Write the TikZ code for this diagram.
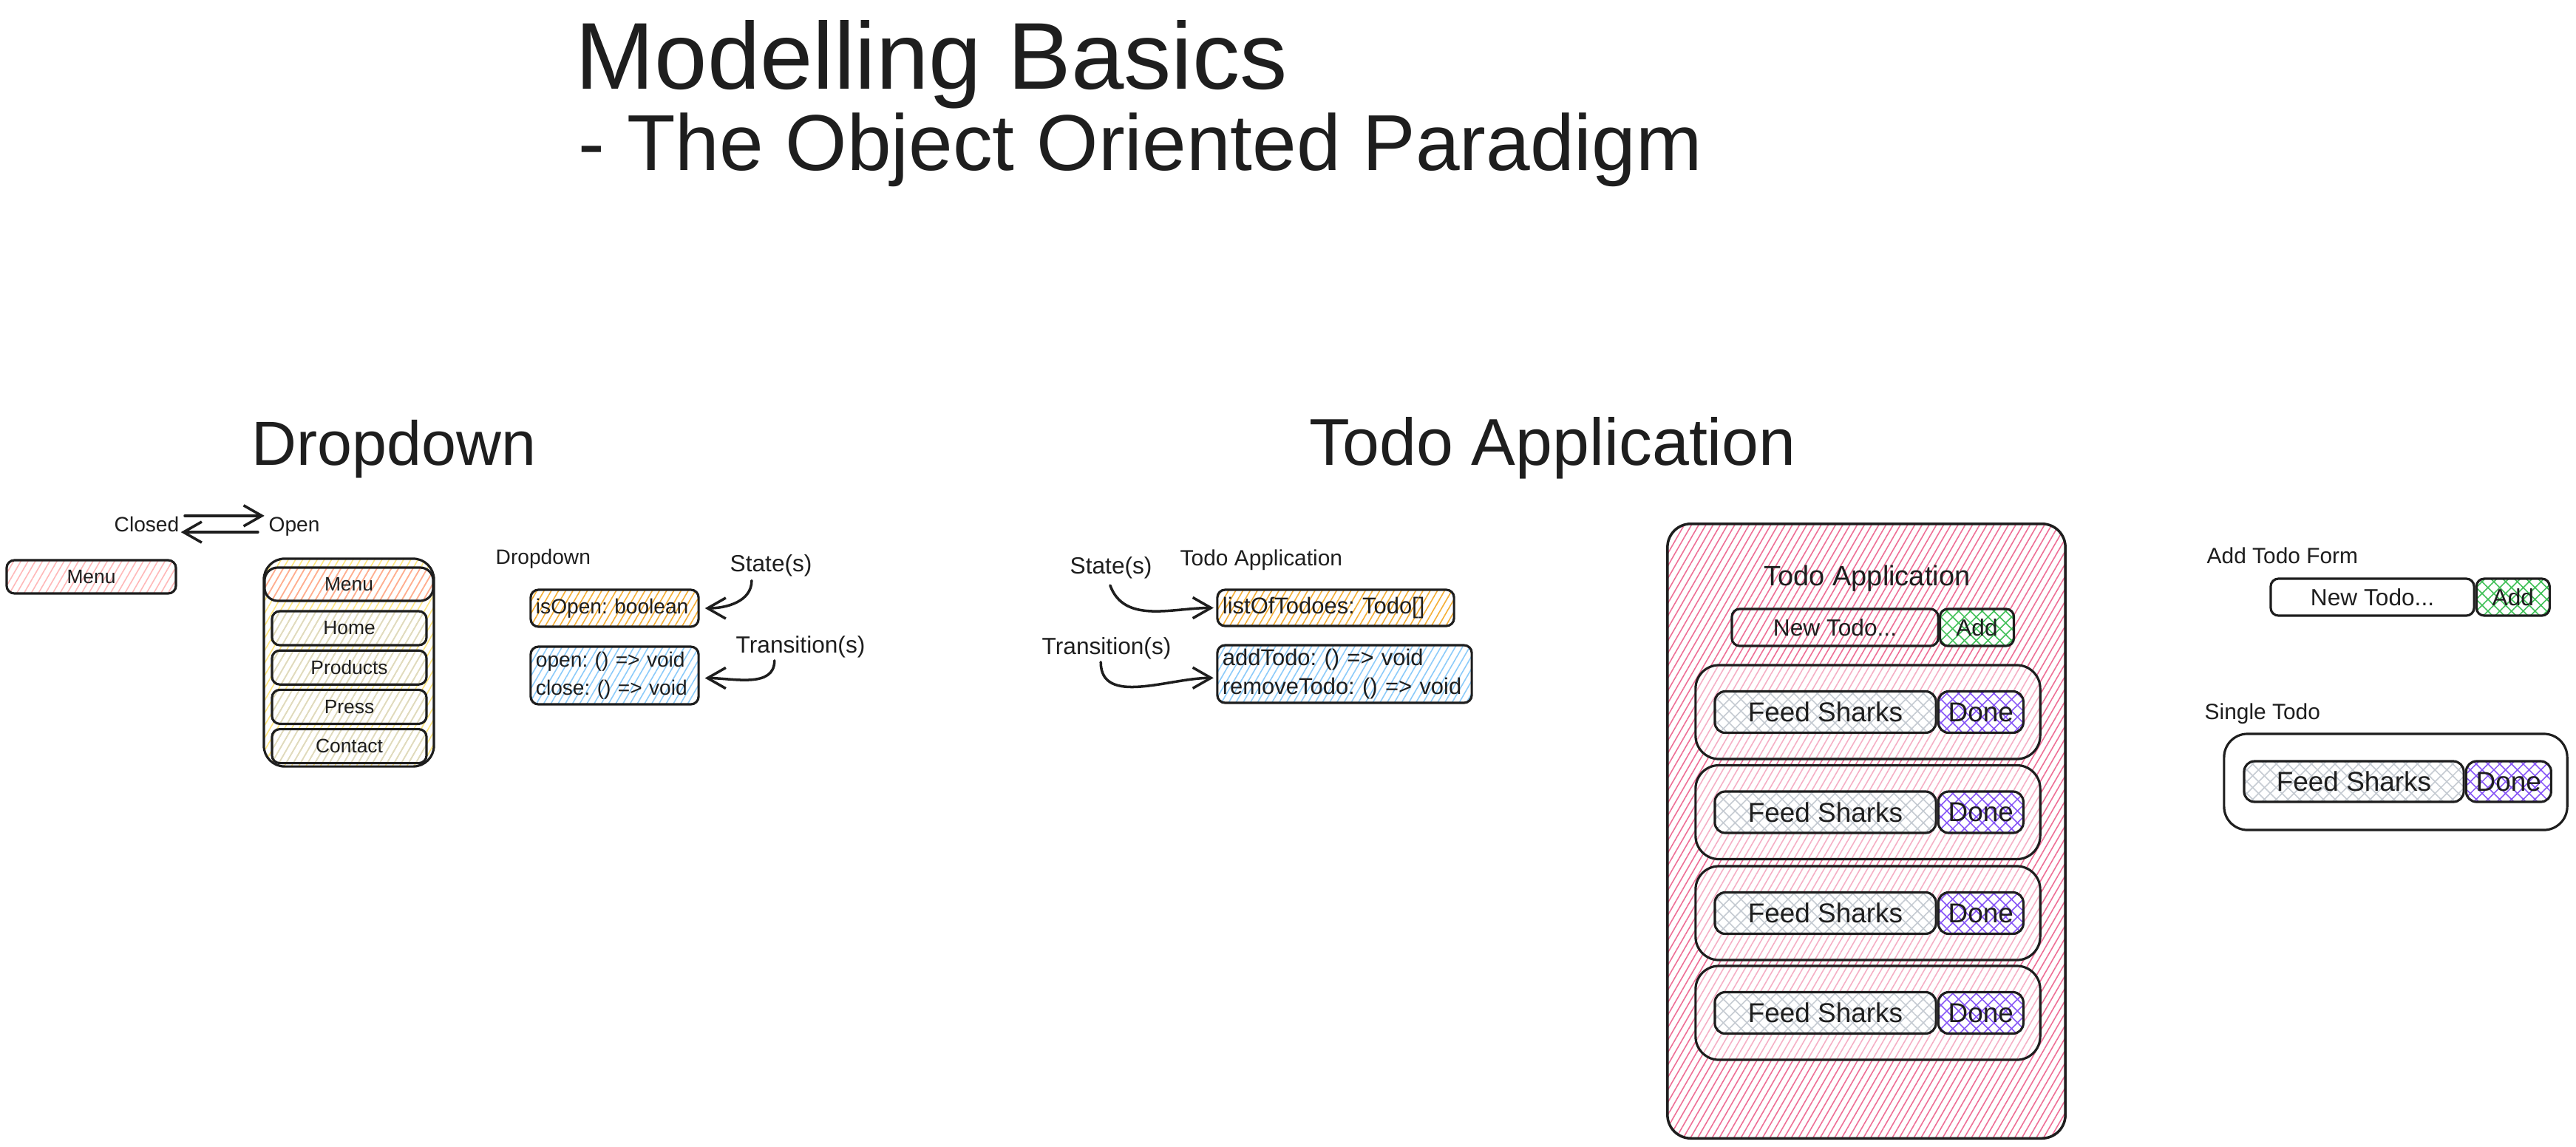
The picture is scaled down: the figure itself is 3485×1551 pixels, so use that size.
\documentclass[tikz,border=0pt]{standalone}
\definecolor{Ink}{HTML}{1E1E1E}
\definecolor{MenuPink}{HTML}{FFB8B8}
\definecolor{HeadSalmon}{HTML}{FFA994}
\definecolor{DropYellow}{HTML}{FFE680}
\definecolor{ItemGrey}{HTML}{DCD9C4}
\definecolor{StateOrange}{HTML}{F5AE35}
\definecolor{TransBlue}{HTML}{8CCBFA}
\definecolor{AppPink}{HTML}{EE6F96}
\definecolor{AddGreen}{HTML}{40C057}
\definecolor{DoneViolet}{HTML}{8655F6}
\definecolor{TodoGrey}{HTML}{C5CBD2}
\usepackage{fontspec}
\setmainfont{Liberation Sans}
\usepackage{tikz}
\usetikzlibrary{arrows.meta, positioning, patterns.meta}
\frenchspacing

\begin{document}
\begin{tikzpicture}[x=0.01cm, y=-0.01cm,
  every node/.style={text=Ink},
  lbl/.style={inner sep=0pt, anchor=base west},
  box/.style={draw=Ink, line width=0.9pt, rounded corners=3pt, inner sep=0pt},
  hatched/.style={pattern={Lines[angle=60, distance=2.4pt, line width=0.45pt]}, pattern color=#1},
  crossed/.style={preaction={fill=white}, pattern={Hatch[angle=45, distance=3.2pt, line width=0.45pt]}, pattern color=#1},
  frame/.style={box, rounded corners=9pt, fill=white, fill opacity=0.45, minimum width=4.66cm, minimum height=1.27cm},
  feed/.style={box, crossed=TodoGrey, rounded corners=4pt, minimum width=2.99cm, minimum height=0.56cm, font=\fontsize{10.5}{12}\selectfont},
  done/.style={box, crossed=DoneViolet, rounded corners=4pt, minimum width=1.15cm, minimum height=0.56cm, font=\fontsize{10.5}{12}\selectfont},
  item/.style={box, hatched=ItemGrey, minimum width=2.09cm, minimum height=0.46cm, font=\fontsize{7.5}{9}\selectfont},
  code/.style={box, align=left, inner xsep=2pt},
  arr/.style={-{Straight Barb[length=7pt, width=8pt]}, line width=1pt, line cap=round, Ink},
]
\fill[white] (0,0) rectangle (3485,1551);
\useasboundingbox (0,0) rectangle (3485,1551);

\node[lbl, font=\fontsize{36.5}{40}\selectfont] (title) at (778,120) {Modelling Basics};
\node[lbl, font=\fontsize{30.5}{36}\selectfont] (subtitle) at (782,230) {- The Object Oriented Paradigm};

\node[lbl, font=\fontsize{24}{28}\selectfont] (hdrop) at (340,629) {Dropdown};
\node[lbl, font=\fontsize{25.5}{28}\selectfont] (htodo) at (1771,629) {Todo Application};

\node[lbl, font=\fontsize{8}{10}\selectfont] (closed) at (154,719) {Closed};
\node[lbl, font=\fontsize{8}{10}\selectfont] (open) at (363,719) {Open};
\draw[arr] ([xshift=2pt, yshift=6pt]closed.base east) -- ([xshift=-1.5pt, yshift=6pt]open.base west);
\draw[arr] ([xshift=-4pt, yshift=-0.3pt]open.base west) -- ([xshift=0.5pt, yshift=-0.3pt]closed.base east);

\node[box, hatched=MenuPink, minimum width=2.29cm, minimum height=0.45cm, font=\fontsize{7.5}{9}\selectfont] (menu) at (123.5,780.5) {Menu};

\node[box, rounded corners=8pt, hatched=DropYellow, minimum width=2.30cm, minimum height=2.81cm] (dropbox) at (472,896.5) {};
\node[box, rounded corners=5pt, hatched=HeadSalmon, minimum width=2.28cm, minimum height=0.45cm, font=\fontsize{7.5}{9}\selectfont] (drophead) at (472,790.5) {Menu};
\node[item] (home) at (472.5,850) {Home};
\node[item, below=0.04cm of home] (products) {Products};
\node[item, below=0.04cm of products] (press) {Press};
\node[item, below=0.04cm of press] (contact) {Contact};

\node[lbl, font=\fontsize{8}{10}\selectfont] (droplbl) at (670,763) {Dropdown};
\node[code, hatched=StateOrange, text width=2.13cm, minimum height=0.50cm, font=\fontsize{8}{10.8}\selectfont] (isopen) at (831.5,823) {isOpen: boolean};
\node[code, hatched=TransBlue, text width=2.13cm, minimum height=0.78cm, font=\fontsize{8}{10.8}\selectfont] (openclose) at (831.5,914) {open: () => void\\close: () => void};
\node[lbl, font=\fontsize{9}{11}\selectfont] (stateA) at (987,773) {State(s)};
\node[lbl, font=\fontsize{9}{11}\selectfont] (transA) at (995,883) {Transition(s)};
\draw[arr] ([xshift=8.5pt, yshift=-1.5pt]stateA.south west) to[out=-90, in=0] ([xshift=2pt]isopen.east);
\draw[arr] ([xshift=15pt, yshift=-1pt]transA.south west) to[out=-90, in=0] ([xshift=2pt, yshift=-1pt]openclose.east);

\node[lbl, font=\fontsize{9}{11}\selectfont] (stateB) at (1447,776) {State(s)};
\node[lbl, font=\fontsize{8.5}{10}\selectfont] (todolbl) at (1596,765) {Todo Application};
\node[lbl, font=\fontsize{9}{11}\selectfont] (transB) at (1409,885) {Transition(s)};
\node[code, hatched=StateOrange, text width=3.06cm, minimum height=0.49cm, font=\fontsize{8.8}{11}\selectfont] (listbox) at (1807,822.5) {listOfTodoes: Todo[]};
\node[code, hatched=TransBlue, text width=3.30cm, minimum height=0.78cm, font=\fontsize{8.8}{11}\selectfont] (addbox) at (1819,912) {addTodo: () => void\\removeTodo: () => void};
\draw[arr] ([xshift=15.6pt, yshift=-2.5pt]stateB.south west) to[out=-70, in=180] ([xshift=-1pt]listbox.west);
\draw[arr] ([xshift=22.8pt, yshift=-1pt]transB.south west) to[out=-90, in=180] ([xshift=-1pt, yshift=-1.5pt]addbox.west);

\node[box, line width=1pt, rounded corners=9pt, hatched=AppPink, minimum width=5.38cm, minimum height=8.31cm] (app) at (2525,1124.5) {};
\node[inner sep=0pt, anchor=base, font=\fontsize{10.8}{13}\selectfont] (apptitle) at (2526,792) {Todo Application};
\node[box, minimum width=2.79cm, minimum height=0.50cm, font=\fontsize{9}{11}\selectfont] (newtodo) at (2482.5,849) {New Todo...};
\node[box, crossed=AddGreen, minimum width=1.00cm, minimum height=0.50cm, right=0pt of newtodo, font=\fontsize{9}{11}\selectfont] (add) {Add};
\node[frame] (item1) at (2527,963.5) {};
\node[frame] (item2) at (2527,1099) {};
\node[frame] (item3) at (2527,1235.5) {};
\node[frame] (item4) at (2527,1370.5) {};
\node[feed] (feed1) at (2469.5,963.5) {Feed Sharks};
\node[done, right=0pt of feed1] (done1) {Done};
\node[feed] (feed2) at (2469.5,1099) {Feed Sharks};
\node[done, right=0pt of feed2] (done2) {Done};
\node[feed] (feed3) at (2469.5,1235.5) {Feed Sharks};
\node[done, right=0pt of feed3] (done3) {Done};
\node[feed] (feed4) at (2469.5,1370.5) {Feed Sharks};
\node[done, right=0pt of feed4] (done4) {Done};

\node[lbl, font=\fontsize{8.5}{10}\selectfont] (formlbl) at (2985,762) {Add Todo Form};
\node[box, minimum width=2.75cm, minimum height=0.50cm, font=\fontsize{9}{11}\selectfont] (newtodo2) at (3209.5,808) {New Todo...};
\node[box, crossed=AddGreen, minimum width=0.99cm, minimum height=0.50cm, right=0pt of newtodo2, font=\fontsize{9}{11}\selectfont] (add2) {Add};

\node[lbl, font=\fontsize{8.5}{10}\selectfont] (singlelbl) at (2982,973) {Single Todo};
\node[frame, minimum width=4.64cm, minimum height=1.30cm] (single) at (3241,1058) {};
\node[feed, minimum height=0.55cm, minimum width=2.97cm] (feed5) at (3184.5,1057.5) {Feed Sharks};
\node[done, minimum height=0.55cm, right=0pt of feed5] (done5) {Done};
\end{tikzpicture}
\end{document}
